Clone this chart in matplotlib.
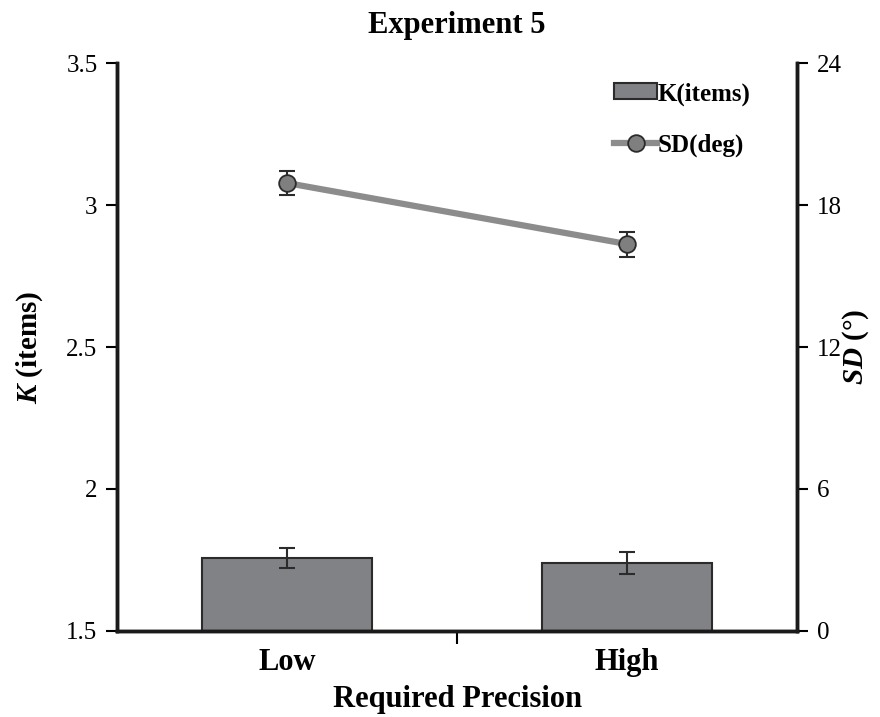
import matplotlib.pyplot as plt
from matplotlib.lines import Line2D
from matplotlib.patches import Patch

conditions = ["Low", "High"]
k_items = [1.757, 1.739]
k_err = [0.036, 0.038]
sd_deg = [18.93, 16.35]
sd_err = [0.50, 0.53]

plt.rcParams["font.family"] = ["Liberation Serif", "DejaVu Serif"]
plt.rcParams["mathtext.fontset"] = "custom"
plt.rcParams["mathtext.it"] = "Liberation Serif:italic:bold"
plt.rcParams["mathtext.rm"] = "Liberation Serif:bold"

bar_color = "#818285"
edge_color = "#2b2b2b"
line_color = "#8c8c8c"

fig = plt.figure(figsize=(8.8, 7.17), dpi=100)
ax = fig.add_axes([0.133, 0.12, 0.773, 0.792])
ax2 = ax.twinx()

x = list(range(len(conditions)))
ax.bar(x, k_items, width=0.5, color=bar_color, edgecolor=edge_color,
       linewidth=1.5, zorder=2)
ax.errorbar(x, k_items, yerr=k_err, fmt="none", ecolor=edge_color,
            elinewidth=1.5, capsize=6, capthick=1.5, zorder=3)

ax2.errorbar(x, sd_deg, yerr=sd_err, fmt="none", ecolor=edge_color,
             elinewidth=1.5, capsize=6, capthick=1.5, zorder=2)
ax2.plot(x, sd_deg, color=line_color, linewidth=4.5, marker="o",
         markersize=12, markerfacecolor="#7f7f7f", markeredgecolor=edge_color,
         markeredgewidth=1.3, zorder=3)

ax.set_xlim(-0.5, 1.5)
ax.set_ylim(1.5, 3.5)
ax.set_yticks([1.5, 2, 2.5, 3, 3.5])
ax.set_yticklabels(["1.5", "2", "2.5", "3", "3.5"])
ax2.set_ylim(0, 24)
ax2.set_yticks([0, 6, 12, 18, 24])

ax.set_xticks(x)
ax.set_xticklabels(conditions, fontsize=22, fontweight="bold")
ax.set_xticks([0.5], minor=True)
ax.tick_params(axis="x", which="major", length=0, pad=12)
ax.tick_params(axis="x", which="minor", length=9, width=1.5, direction="out")
ax.tick_params(axis="y", labelsize=18, length=8, width=1.5, direction="out", pad=6)
ax2.tick_params(axis="y", labelsize=18, length=8, width=1.5, direction="out", pad=6)

for a in (ax, ax2):
    a.spines["top"].set_visible(False)
    for side in ("left", "right", "bottom"):
        a.spines[side].set_linewidth(2.5)
        a.spines[side].set_color("#1a1a1a")

ax.set_xlabel("Required Precision", fontsize=22, fontweight="bold", labelpad=6)
ax.set_ylabel(r"$K$ (items)", fontsize=21, fontweight="bold")
ax.yaxis.set_label_coords(-0.106, 0.5)
ax2.set_ylabel(r"$SD$ (°)", fontsize=21, fontweight="bold", rotation=90)
ax2.yaxis.set_label_coords(1.064, 0.5)
ax.set_title("Experiment 5", fontsize=22, fontweight="bold", pad=22)

handles = [
    Patch(facecolor=bar_color, edgecolor=edge_color, linewidth=1.5),
    Line2D([0], [0], color=line_color, linewidth=4.5, marker="o", markersize=12,
           markerfacecolor="#7f7f7f", markeredgecolor=edge_color,
           markeredgewidth=1.3),
]
leg = ax2.legend(handles, ["K(items)", "SD(deg)"], loc="upper left",
                 bbox_to_anchor=(0.698, 1.006), frameon=False,
                 prop={"weight": "bold", "size": 18}, handlelength=1.7,
                 handleheight=0.6, handletextpad=0.05, labelspacing=1.1)

fig.savefig("out.png", dpi=100)
